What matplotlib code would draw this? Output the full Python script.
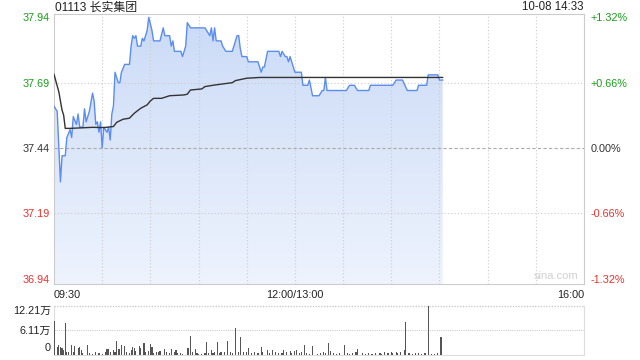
import matplotlib
matplotlib.use("Agg")
import matplotlib.pyplot as plt
from matplotlib.colors import LinearSegmentedColormap
import numpy as np

plt.rcParams['font.family'] = ['Liberation Sans', 'Noto Sans CJK SC', 'DejaVu Sans']

# minutes since 09:30 (lunch break removed), 330 minutes total
price_min = [0, 2, 4, 5, 7, 8, 10, 11, 12, 14, 15, 16, 18, 19, 20, 22, 24, 25, 26, 27,
             28, 29, 30, 31, 33, 34, 35, 36, 37, 38, 40, 41, 42, 44, 47, 48, 49, 50, 51, 52,
             54, 55, 56, 58, 59, 61, 62, 66, 68, 69, 72, 73, 74, 75, 79, 80, 82, 83, 85, 94,
             96, 97, 98, 99, 100, 101, 104, 105, 107, 111, 113, 114, 115, 116, 117, 120, 121, 127, 129, 130,
             131, 133, 134, 140, 141, 142, 144, 145, 146, 147, 148, 150, 154, 155, 158, 159, 161, 165, 167, 168,
             169, 170, 182, 184, 187, 189, 196, 197, 211, 213, 217, 220, 226, 227, 232, 233, 239, 240, 242]
price = [37.60, 37.58, 37.31, 37.41, 37.41, 37.48, 37.51, 37.48, 37.56, 37.53, 37.57, 37.52, 37.52, 37.59, 37.54, 37.58, 37.65, 37.62, 37.53, 37.54,
         37.50, 37.54, 37.44, 37.52, 37.50, 37.52, 37.47, 37.57, 37.60, 37.73, 37.69, 37.69, 37.73, 37.76, 37.76, 37.83, 37.87, 37.86, 37.87, 37.83,
         37.83, 37.86, 37.85, 37.89, 37.94, 37.89, 37.85, 37.85, 37.90, 37.87, 37.87, 37.83, 37.85, 37.81, 37.81, 37.79, 37.83, 37.92, 37.90, 37.90,
         37.88, 37.87, 37.90, 37.85, 37.90, 37.85, 37.85, 37.83, 37.81, 37.81, 37.85, 37.87, 37.87, 37.82, 37.79, 37.79, 37.77, 37.77, 37.73, 37.75,
         37.75, 37.81, 37.81, 37.81, 37.79, 37.81, 37.79, 37.79, 37.77, 37.79, 37.77, 37.73, 37.73, 37.68, 37.68, 37.70, 37.64, 37.64, 37.66, 37.66,
         37.71, 37.66, 37.66, 37.68, 37.68, 37.66, 37.66, 37.68, 37.68, 37.70, 37.70, 37.66, 37.66, 37.68, 37.68, 37.72, 37.72, 37.70, 37.70]

avg_min = [0, 3, 5, 6, 7, 10, 24, 31, 37, 39, 43, 47, 50, 54, 58, 60, 62, 67, 72, 81,
           83, 85, 92, 94, 100, 111, 113, 120, 128, 242]
avg = [37.722, 37.655, 37.585, 37.566, 37.515, 37.515, 37.519, 37.518, 37.522, 37.538, 37.55, 37.554, 37.573, 37.592, 37.605, 37.62, 37.63, 37.63, 37.64, 37.643,
       37.646, 37.662, 37.666, 37.675, 37.681, 37.69, 37.698, 37.707, 37.71, 37.71]

# volume in 万
vol_min = [0, 2, 3, 4, 5, 6, 7, 8, 9, 11, 12, 13, 15, 16, 17, 18, 21, 22, 24, 26,
           28, 30, 32, 33, 34, 35, 37, 38, 39, 40, 41, 42, 44, 45, 47, 48, 49, 50, 51, 53,
           54, 56, 57, 59, 60, 61, 62, 64, 65, 66, 69, 70, 72, 73, 75, 76, 77, 79, 80, 83,
           84, 85, 86, 88, 89, 90, 92, 94, 95, 96, 98, 99, 100, 102, 103, 104, 106, 108, 110, 111,
           113, 115, 116, 118, 120, 121, 123, 125, 127, 129, 130, 133, 134, 136, 138, 140, 142, 143, 145, 147,
           148, 150, 151, 153, 154, 156, 157, 159, 161, 164, 166, 168, 169, 171, 172, 174, 176, 178, 181, 183,
           184, 186, 188, 189, 192, 194, 196, 198, 200, 203, 204, 206, 208, 210, 211, 213, 214, 216, 218, 219,
           221, 223, 225, 227, 229, 231, 233, 235, 237, 239, 241]
vol = [8.4, 2.06, 2.6, 2.06, 1.8, 1.2, 7.9, 0.8, 0.66, 2.5, 0.8, 2.2, 1.65, 1.9, 1.2, 0.4, 2.5, 0.4, 0.33, 0.66,
       0.4, 0.2, 0.8, 1.4, 1.5, 0.8, 1.2, 0.66, 3.5, 1.5, 1.5, 2.5, 2.2, 0.8, 0.4, 1.2, 2.06, 1.65, 1.0, 2.3,
       1.65, 2.9, 0.66, 1.0, 2.7, 1.9, 0.4, 0.8, 0.66, 1.0, 1.5, 0.66, 0.4, 1.5, 0.8, 1.2, 0.6, 0.4, 0.33, 1.65,
       1.8, 4.7, 0.66, 1.4, 0.4, 0.33, 0.33, 0.5, 3.3, 0.4, 1.2, 0.4, 0.8, 3.3, 0.4, 0.8, 0.66, 3.5, 0.66, 0.4,
       6.8, 0.66, 4.5, 0.8, 0.66, 1.65, 0.4, 0.66, 0.4, 2.06, 0.66, 1.2, 0.4, 1.2, 0.66, 0.4, 0.4, 1.2, 0.66, 1.0,
       0.4, 1.0, 1.2, 0.4, 0.66, 2.5, 0.4, 0.33, 2.2, 0.33, 0.4, 0.66, 0.4, 3.0, 1.0, 0.4, 0.33, 0.4, 2.5, 0.4,
       0.33, 0.4, 0.66, 1.5, 0.4, 0.33, 0.4, 0.33, 0.4, 0.5, 0.33, 0.66, 0.4, 0.66, 0.4, 0.8, 0.4, 0.66, 1.2, 8.25,
       0.4, 0.33, 0.4, 0.4, 0.33, 0.4, 12.21, 0.33, 0.33, 0.4, 4.5]

prev_close = 37.44
price_ticks = [36.94, 37.19, 37.44, 37.69, 37.94]
pct_labels = ['-1.32%', '-0.66%', '0.00%', '+0.66%', '+1.32%']
tick_colors = ['#e8312f', '#e8312f', '#333333', '#1a9e1a', '#1a9e1a']
time_ticks = [0, 150, 330]
time_labels = ['09:30', '12:00/13:00', '16:00']

fig = plt.figure(figsize=(6.4, 3.6), dpi=100)
ax = fig.add_axes([54/640, 1-284/360, 530/640, 270/360])
ylo, yhi = 36.919, 37.953
ax.set_xlim(0, 330)
ax.set_ylim(ylo, yhi)

# gradient fill under price
poly = ax.fill_between(price_min, price, ylo, color='none')
cmap = LinearSegmentedColormap.from_list('fill', ['#eef3fd', '#cbdbf7'])
grad = np.linspace(0, 1, 256).reshape(-1, 1)
im = ax.imshow(grad, cmap=cmap, origin='lower', aspect='auto',
               extent=[0, 330, ylo, 37.94], zorder=1)
im.set_clip_path(poly.get_paths()[0], transform=ax.transData)

ax.plot(price_min, price, color='#5b8def', lw=1, zorder=3)
ax.plot(avg_min, avg, color='#333333', lw=1, zorder=4)

for m in range(30, 330, 30):
    ax.axvline(m, color='#cccccc', lw=0.8, ls=(0, (1, 2)), zorder=2)
for p in [37.19, 37.69]:
    ax.axhline(p, color='#cccccc', lw=0.8, ls=(0, (1, 2)), zorder=2)
ax.axhline(prev_close, color='#aaaaaa', lw=0.8, ls=(0, (3, 2)), zorder=2)

for s in ax.spines.values():
    s.set_color('#cccccc')
    s.set_linewidth(0.8)

ax.set_yticks(price_ticks)
ax.set_yticklabels([f'{p:.2f}' for p in price_ticks])
for lab, c in zip(ax.get_yticklabels(), tick_colors):
    lab.set_color(c)
ax.tick_params(axis='y', length=0, pad=3, labelsize=7.8)

ax2 = ax.twinx()
ax2.set_ylim(ylo, yhi)
ax2.set_yticks(price_ticks)
ax2.set_yticklabels(pct_labels)
for lab, c in zip(ax2.get_yticklabels(), tick_colors):
    lab.set_color(c)
ax2.tick_params(axis='y', length=0, pad=5, labelsize=7.8)
for s in ax2.spines.values():
    s.set_visible(False)

ax.set_xticks(time_ticks)
ax.set_xticklabels(time_labels)
for lab, ha in zip(ax.get_xticklabels(), ['left', 'center', 'right']):
    lab.set_horizontalalignment(ha)
ax.tick_params(axis='x', length=0, pad=4, labelsize=7.8, labelcolor='#222222')

fig.text(55/640, 1-7.5/360, '01113 长实集团', ha='left', va='center',
         fontsize=8.6, color='#222222')
fig.text(584/640, 1-7.5/360, '10-08 14:33', ha='right', va='center',
         fontsize=8.3, color='#222222')
ax.text(0.99, 0.012, 'sina.com', transform=ax.transAxes, ha='right', va='bottom',
        fontsize=8, color='#d0d0d0')

# volume panel
axv = fig.add_axes([54/640, 1-355/360, 530/640, 49.3/360])
axv.set_xlim(0, 330)
axv.set_ylim(0, 12.21)
axv.bar(vol_min, vol, width=0.7, color='#555555', zorder=3)
axv.axhline(6.11, color='#cccccc', lw=0.8, ls=(0, (1, 1)), zorder=1)
axv.axhline(12.21, color='#cccccc', lw=1.0, ls=(0, (1, 1)), zorder=1, clip_on=False)
for s in axv.spines.values():
    s.set_color('#dddddd')
    s.set_linewidth(0.8)
axv.spines['top'].set_visible(False)
axv.set_xticks([])
axv.set_yticks([])
vlab = [('12.21万', 10.9), ('6.11万', 5.9), ('0', 1.7)]
for t, yv in vlab:
    axv.text(-0.006, yv, t, transform=axv.get_yaxis_transform(), ha='right', va='center',
             fontsize=7.8, color='#222222')

fig.savefig('out.png', dpi=100)
